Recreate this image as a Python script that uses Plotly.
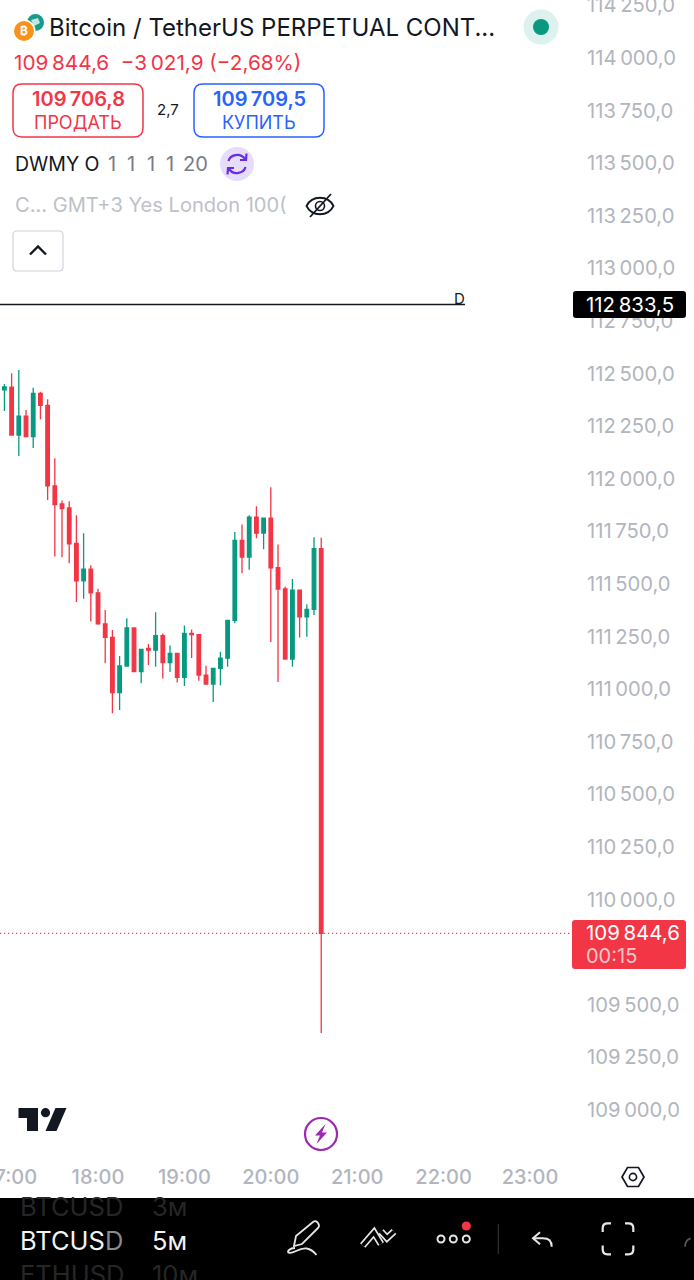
import re
import pandas as pd
import plotly.graph_objects as go

W, H = 694, 1280
THIN = "\u2009"

# ---------------- data ----------------
first_bar = "2025-08-25 16:55"
opens = [112427,112440,112213,112303,112205,112411,112354,111971,111885,111866,111698,111520,111575,111463,111315,
         111251,110988,111115,111296,111088,111199,111190,111259,111131,111175,111061,111270,111264,111072,111029,
         111104,111152,111332,111712,111633,111822,111747,111818,111582,111481,111148,111475,111349,111384,111673]
highs = [112455,112506,112522,112332,112438,112419,112383,112102,111901,111898,111831,111746,111594,111482,111381,
         111286,111163,111342,111296,111194,111220,111370,111270,111213,111175,111308,111289,111267,111116,111104,
         111183,111332,111752,111788,111831,111874,111818,111964,111692,111492,111529,111475,111408,111727,111725]
lows = [112327,112213,112113,112205,112151,112288,111904,111635,111632,111603,111419,111435,111327,111311,111128,
        110890,110906,111115,111088,111033,111120,111112,111055,111086,111036,111020,111153,111045,111029,110944,
        111023,111112,111318,111556,111573,111722,111670,111229,111039,111148,111112,111250,111254,111357,109371]
closes = [112441,112213,112303,112205,112411,112354,111971,111882,111863,111695,111520,111575,111463,111315,111251,
          110988,111115,111296,111088,111194,111190,111259,111131,111175,111061,111270,111264,111072,111029,111104,
          111152,111332,111712,111633,111822,111747,111818,111582,111481,111148,111475,111349,111384,111673,109844.6]
last_price = 109844.6
marked_level = 112833.5
price_ticks = list(range(109000, 114500, 250))
hour_ticks = ["17:00","18:00","19:00","20:00","21:00","22:00","23:00"]
day = "2025-08-25"

RED, GREEN, BLUE = "#F23645", "#089981", "#2962FF"
GREY, LIGHT = "#787B86", "#B2B5BE"
FONT = "Inter"
times = pd.date_range(first_bar, periods=len(opens), freq="5min")

def price_label(v):
    s = f"{v:.1f}".replace(".", ",")
    return s[:-5] + THIN + s[-5:]

# ---------------- pixel helpers for the app chrome ----------------
def px(x): return x / W
def py(y): return 1 - y / H

def path(d):
    it = iter(range(10**6))
    def conv(m):
        v = float(m.group(0))
        return f"{px(v):.5f}" if next(it) % 2 == 0 else f"{py(v):.5f}"
    return re.sub(r"-?\d+\.?\d*", conv, d)

shapes, notes = [], []

def stroke(d, color, width=2.0, fill=None):
    shapes.append(dict(type="path", xref="paper", yref="paper", path=path(d),
                       line=dict(color=color, width=width), fillcolor=fill or "rgba(0,0,0,0)"))

def solid(d, fill):
    shapes.append(dict(type="path", xref="paper", yref="paper", path=path(d),
                       line=dict(width=0), fillcolor=fill))

def rrect(x0, y0, x1, y1, r, line=None, fill=None, lw=1.5):
    d = (f"M {x0+r} {y0} L {x1-r} {y0} Q {x1} {y0} {x1} {y0+r} L {x1} {y1-r} Q {x1} {y1} {x1-r} {y1} "
         f"L {x0+r} {y1} Q {x0} {y1} {x0} {y1-r} L {x0} {y0+r} Q {x0} {y0} {x0+r} {y0} Z")
    shapes.append(dict(type="path", xref="paper", yref="paper", path=path(d),
                       line=dict(color=line or "rgba(0,0,0,0)", width=lw if line else 0),
                       fillcolor=fill or "rgba(0,0,0,0)"))

def circle(cx, cy, r, fill=None, line=None, lw=2):
    shapes.append(dict(type="circle", xref="paper", yref="paper",
                       x0=px(cx-r), x1=px(cx+r), y0=py(cy+r), y1=py(cy-r),
                       fillcolor=fill or "rgba(0,0,0,0)",
                       line=dict(color=line or "rgba(0,0,0,0)", width=lw if line else 0)))

def text(x, y, s, size, color, anchor="left", weight=400):
    notes.append(dict(xref="paper", yref="paper", x=px(x), y=py(y), text=s, showarrow=False,
                      xanchor=anchor, yanchor="middle", borderpad=0, borderwidth=0,
                      font=dict(family=FONT, size=size, color=color, weight=weight)))

# header
circle(35.5, 22.5, 8.5, fill="#1A9B8A")
solid("M 31 20 L 38 18 L 40 23 L 34 26 Z", "#BFE6DF")
circle(24, 31, 11.5, fill="#FFFFFF")
circle(24, 31, 10, fill="#F7931A")
text(24, 31, "₿", 12, "#FFFFFF", "center", 700)
text(49, 27, "Bitcoin / TetherUS PERPETUAL CONT...", 24, "#131722")
text(14, 63, f"109{THIN}844,6  −3{THIN}021,9 (−2,68%)", 20.7, RED)
rrect(13, 84, 143, 137, 9, line=RED)
text(78, 99, f"109{THIN}706,8", 20, RED, "center", 600)
text(78, 122, "ПРОДАТЬ", 18, RED, "center")
text(168, 109, "2,7", 15, "#131722", "center")
rrect(194, 84, 324, 137, 9, line=BLUE)
text(259, 99, f"109{THIN}709,5", 20, BLUE, "center", 600)
text(259, 122, "КУПИТЬ", 18, BLUE, "center")
text(15, 164, "DWMY O", 19.5, "#131722")
for cx, s in [(112, "1"), (131, "1"), (151, "1"), (170, "1"), (195, "20")]:
    text(cx, 164, s, 20, GREY, "center")
circle(237, 164, 17, fill="#E6DDFB")
for d in ["M 228.5 161 C 230 155 240 152 245 159", "M 246.5 153.5 L 246 160 L 240 160",
          "M 245.5 167 C 244 173 234 176 229 169", "M 227.5 174.5 L 228 168 L 234 168"]:
    stroke(d, "#6A2BE8", 2.2)
text(15, 205, "C... GMT+3 Yes London 100(", 20.1, "#BEC1C8")
stroke("M 306.5 206 C 312 195 328 195 333.5 206 C 328 217 312 217 306.5 206 Z", "#131722", 1.8)
circle(320, 206, 4.5, line="#131722", lw=1.6)
stroke("M 310 217 L 331 194", "#131722", 1.8)
rrect(13, 231, 63, 271, 4, line="#D1D4DC", lw=1.2)
stroke("M 30 254.5 L 38 246.5 L 46 254.5", "#131722", 2.4)
circle(541, 27, 17.5, fill="#DDF2EE")
circle(541, 27, 8, fill=GREEN)

# price line with its D mark
shapes.append(dict(type="line", xref="paper", yref="y", x0=0, x1=px(465), y0=marked_level, y1=marked_level,
                   line=dict(color="#131722", width=1.4), layer="above"))
text(459, 298, "D", 15, "#131722", "center")
shapes.append(dict(type="line", xref="paper", yref="y", x0=0, x1=px(572), y0=last_price, y1=last_price,
                   line=dict(color=RED, width=1.2, dash="1.2px,2.8px"), layer="above"))

# price tags
rrect(573, 291, 686, 318, 3, fill="#000000")
text(586, 304, price_label(marked_level), 20.4, "#FFFFFF")
rrect(572, 920, 686, 969, 3, fill=RED)
text(586, 932, price_label(last_price), 20.4, "#FFFFFF")
text(586, 956, "00:15", 20, "#F6C6CB")

# TradingView mark
solid("M 18.5 1108 L 38 1108 L 38 1131 L 27 1131 L 27 1118 L 18.5 1118 Z", "#131722")
circle(45.5, 1112.7, 4.6, fill="#131722")
solid("M 55.5 1108 L 66.5 1108 L 56.5 1131 L 45.5 1131 Z", "#131722")

# lightning badge
circle(321, 1134, 16, line="#9C27B0", lw=2.2, fill="#FFFFFF")
solid("M 325.5 1124 L 315 1135.5 L 320 1135.5 L 316.5 1144 L 327 1132.5 L 322 1132.5 Z", "#9C27B0")

# settings hexagon
stroke("M 622 1177 L 627.5 1167.5 L 638.5 1167.5 L 644 1177 L 638.5 1186.5 L 627.5 1186.5 Z", "#131722", 1.7)
circle(633, 1177, 3.6, line="#131722", lw=1.6)

# bottom bar
shapes.append(dict(type="rect", xref="paper", yref="paper", x0=0, x1=1, y0=0, y1=py(1198),
                   fillcolor="#000000", line=dict(width=0)))
text(20, 1206, "BTCUSD", 25.5, "#262626")
text(152, 1206, "3м", 25.5, "#262626")
text(20, 1240, "BTCUS<span style='color:#8A8A8A'>D</span>", 25.5, "#F2F2F2")
text(152, 1240, "5м", 25.5, "#F2F2F2")
text(20, 1274, "ETHUSD", 25.5, "#262626")
text(152, 1274, "10м", 25.5, "#262626")
WHITE = "#E6E6E6"
stroke("M 294 1246 L 296 1236 L 313 1222 Q 316 1220 318 1223 Q 320 1226 318 1228 L 302 1244 Z", WHITE, 1.8)
stroke("M 316.5 1255 C 310 1247 304 1247 296 1251 C 290 1254 286 1253 289 1250 C 291 1248 294 1248 295 1248", WHITE, 1.8)
for w, c in [(7, WHITE), (3.6, "#000000")]:
    stroke("M 362.7 1245.5 L 374 1232.5 L 381 1244", c, w)
    stroke("M 381 1231.5 L 387 1238 L 394 1231.5", c, w)
for cx in (441, 453.3, 466.3):
    circle(cx, 1239, 3.5, line=WHITE, lw=2)
circle(466.3, 1226, 4.6, fill=RED)
stroke("M 498.3 1224 L 498.3 1254", "#333333", 1.2)
stroke("M 540 1232.3 L 533 1238.3 L 540 1244.3", WHITE, 2)
stroke("M 533 1238.3 L 543 1238.3 C 548 1238.3 551.7 1241 551.7 1246.7", WHITE, 2)
for d in ["M 602.7 1232 L 602.7 1228 Q 602.7 1223.3 607.5 1223.3 L 611 1223.3",
          "M 625 1223.3 L 628.5 1223.3 Q 633.3 1223.3 633.3 1228 L 633.3 1232",
          "M 602.7 1245.5 L 602.7 1249.5 Q 602.7 1254.3 607.5 1254.3 L 611 1254.3",
          "M 625 1254.3 L 628.5 1254.3 Q 633.3 1254.3 633.3 1249.5 L 633.3 1245.5"]:
    stroke(d, WHITE, 2.2)
stroke("M 685 1246.7 Q 685 1240 690.7 1238.3", "#555555", 1.8)

# ---------------- figure ----------------
fig = go.Figure(go.Candlestick(
    x=times, open=opens, high=highs, low=lows, close=closes,
    increasing=dict(line=dict(color=GREEN, width=1.3), fillcolor=GREEN),
    decreasing=dict(line=dict(color=RED, width=1.3), fillcolor=RED),
    whiskerwidth=0, hoverinfo="skip", showlegend=False))

fig.update_layout(
    width=W, height=H, margin=dict(l=0, r=0, t=0, b=0), autosize=False,
    paper_bgcolor="#FFFFFF", plot_bgcolor="#FFFFFF", showlegend=False,
    shapes=shapes, annotations=notes,
    xaxis=dict(domain=[0, 586 / W], range=[f"{day} 16:51:56", f"{day} 23:38:53"], type="date",
               rangeslider=dict(visible=False), showgrid=False, zeroline=False, showline=False, ticks="",
               tickmode="array", tickvals=[f"{day} {h}" for h in hour_ticks], ticktext=hour_ticks,
               ticklabeloverflow="allow", automargin=False,
               tickfont=dict(family=FONT, size=20, color=LIGHT, weight=500), anchor="y"),
    yaxis=dict(domain=[py(1163), 1], range=[108752.8, 114280.4], side="right", anchor="x",
               showgrid=False, zeroline=False, showline=False, ticks="",
               tickmode="array", tickvals=price_ticks, ticktext=[price_label(v) for v in price_ticks],
               ticklabelshift=-1, ticklabeloverflow="allow", automargin=False,
               tickfont=dict(family=FONT, size=20.2, color=LIGHT)),
)

fig.write_html("out.html", config=dict(displayModeBar=False),
               post_script="document.body.style.margin='0';")
